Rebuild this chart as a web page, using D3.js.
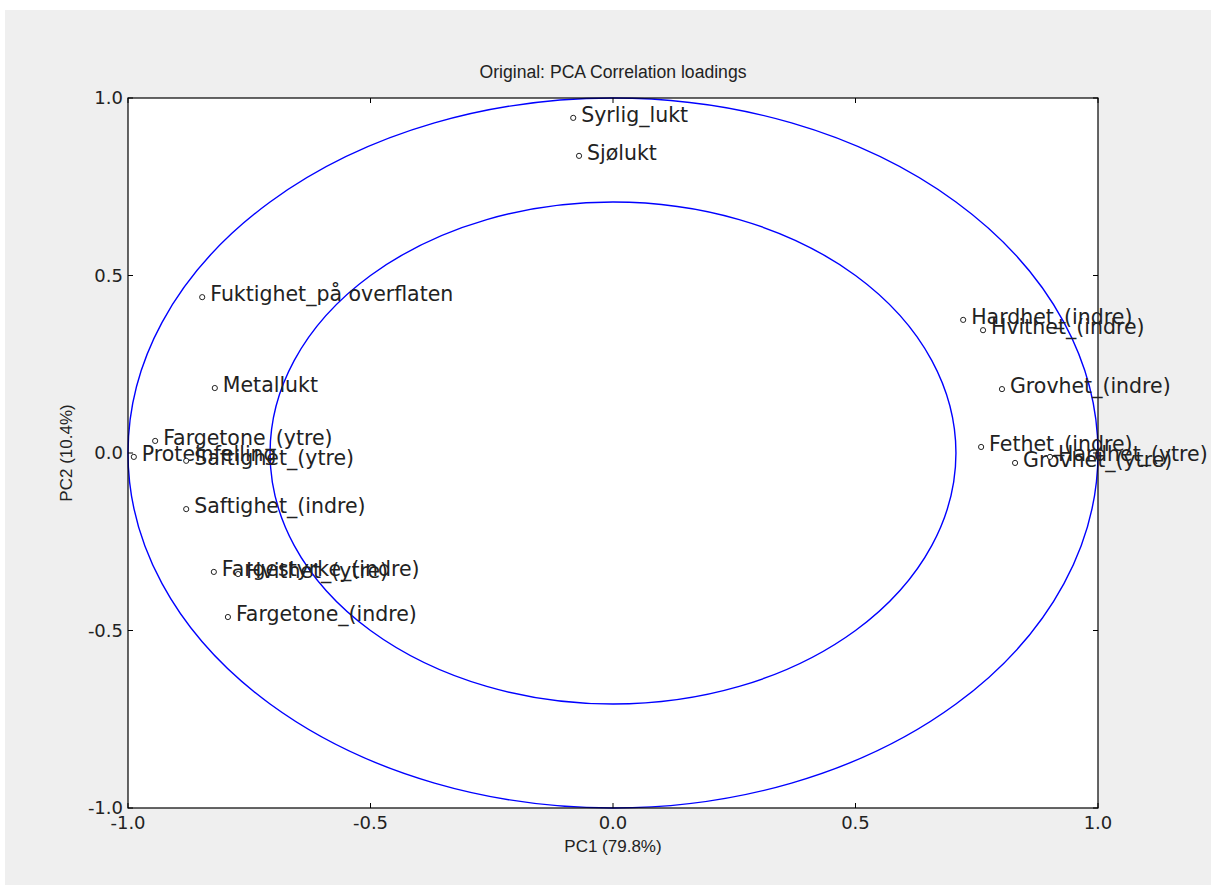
<!DOCTYPE html>
<meta charset="utf-8">
<head>
    <title>PCA Correlation loadings</title>
    <script src="https://d3js.org/d3.v7.min.js"></script>
    <style>
        body { margin: 0; background: #fff; }
        .axis-title, .title { font-family: "Liberation Sans", Arial, sans-serif; fill: #222; }
        .tick-label { font-family: "DejaVu Sans", sans-serif; fill: #222; }
        .pt-label { font-family: "DejaVu Sans", sans-serif; font-size: 20.5px; fill: #222; }
    </style>
</head>
<body>
<script>
    // loadings
    var variables = ["Syrlig_lukt", "Sjølukt", "Fuktighet_på overflaten", "Metallukt",
        "Fargetone_(ytre)", "Proteinfelling", "Saftighet_(ytre)", "Saftighet_(indre)",
        "Fargestyrke_(indre)", "Hvithet_(ytre)", "Fargetone_(indre)",
        "Hardhet_(indre)", "Hvithet_(indre)", "Grovhet_(indre)", "Fethet_(indre)",
        "Grovhet_(ytre)", "Hardhet_(ytre)"];
    var pc1 = [-0.082, -0.070, -0.847, -0.821, -0.944, -0.988, -0.880, -0.880,
        -0.823, -0.773, -0.794, 0.722, 0.763, 0.802, 0.759, 0.829, 0.901];
    var pc2 = [0.944, 0.837, 0.439, 0.183, 0.034, -0.011, -0.022, -0.158,
        -0.335, -0.341, -0.462, 0.375, 0.346, 0.180, 0.017, -0.028, -0.011];
    var ticks = [-1.0, -0.5, 0.0, 0.5, 1.0];
    var radii = [1, Math.sqrt(0.5)];

    var width = 1211, height = 890;
    var svg = d3.select("body").append("svg")
        .attr("width", width)
        .attr("height", height);

    svg.append("rect")
        .attr("x", 5).attr("y", 10)
        .attr("width", width - 5).attr("height", 875)
        .attr("fill", "#efefef");

    var x = d3.scaleLinear().domain([-1, 1]).range([128, 1098]);
    var y = d3.scaleLinear().domain([-1, 1]).range([808, 98]);

    svg.append("rect")
        .attr("x", x(-1)).attr("y", y(1))
        .attr("width", x(1) - x(-1)).attr("height", y(-1) - y(1))
        .attr("fill", "#fff");

    // correlation circles (r = 1 and r = sqrt(0.5))
    svg.selectAll(".ring")
        .data(radii)
        .enter().append("ellipse")
        .attr("cx", x(0)).attr("cy", y(0))
        .attr("rx", function (d) { return x(d) - x(0); })
        .attr("ry", function (d) { return y(0) - y(d); })
        .attr("fill", "none")
        .attr("stroke", "#0000ff")
        .attr("stroke-width", 1.4);

    var fmt = function (d) { return d.toFixed(1); };

    // inward ticks on all four sides
    var tickG = svg.append("g").attr("stroke", "#000").attr("stroke-width", 1);
    ticks.forEach(function (t) {
        tickG.append("line").attr("x1", x(t)).attr("x2", x(t)).attr("y1", y(-1)).attr("y2", y(-1) - 5);
        tickG.append("line").attr("x1", x(t)).attr("x2", x(t)).attr("y1", y(1)).attr("y2", y(1) + 5);
        tickG.append("line").attr("y1", y(t)).attr("y2", y(t)).attr("x1", x(-1)).attr("x2", x(-1) + 5);
        tickG.append("line").attr("y1", y(t)).attr("y2", y(t)).attr("x1", x(1)).attr("x2", x(1) - 5);
    });

    svg.append("rect")
        .attr("x", x(-1)).attr("y", y(1))
        .attr("width", x(1) - x(-1)).attr("height", y(-1) - y(1))
        .attr("fill", "none").attr("stroke", "#000").attr("stroke-width", 1.2);

    svg.selectAll(".xt")
        .data(ticks)
        .enter().append("text")
        .attr("class", "tick-label")
        .attr("x", function (d) { return x(d); })
        .attr("y", y(-1) + 21)
        .attr("text-anchor", "middle")
        .style("font-size", "18px")
        .text(fmt);

    svg.selectAll(".yt")
        .data(ticks)
        .enter().append("text")
        .attr("class", "tick-label")
        .attr("x", x(-1) - 5)
        .attr("y", function (d) { return y(d) + 6; })
        .attr("text-anchor", "end")
        .style("font-size", "18px")
        .text(fmt);

    svg.append("text")
        .attr("class", "title")
        .attr("x", x(0)).attr("y", 78)
        .attr("text-anchor", "middle")
        .style("font-size", "17.6px")
        .text("Original: PCA Correlation loadings");

    svg.append("text")
        .attr("class", "axis-title")
        .attr("x", x(0)).attr("y", 852)
        .attr("text-anchor", "middle")
        .style("font-size", "17px")
        .text("PC1 (79.8%)");

    svg.append("text")
        .attr("class", "axis-title")
        .attr("transform", "translate(72," + y(0) + ") rotate(-90)")
        .attr("text-anchor", "middle")
        .style("font-size", "17px")
        .text("PC2 (10.4%)");

    // loading points
    var pts = svg.selectAll(".pt")
        .data(variables)
        .enter().append("g")
        .attr("class", "pt")
        .attr("transform", function (d, i) { return "translate(" + x(pc1[i]) + "," + y(pc2[i]) + ")"; });

    pts.append("circle")
        .attr("r", 2.6)
        .attr("fill", "#fff")
        .attr("stroke", "#222")
        .attr("stroke-width", 1);

    pts.append("text")
        .attr("class", "pt-label")
        .attr("x", 8)
        .attr("y", 4)
        .text(function (d) { return d; });
</script>
</body>
</html>
